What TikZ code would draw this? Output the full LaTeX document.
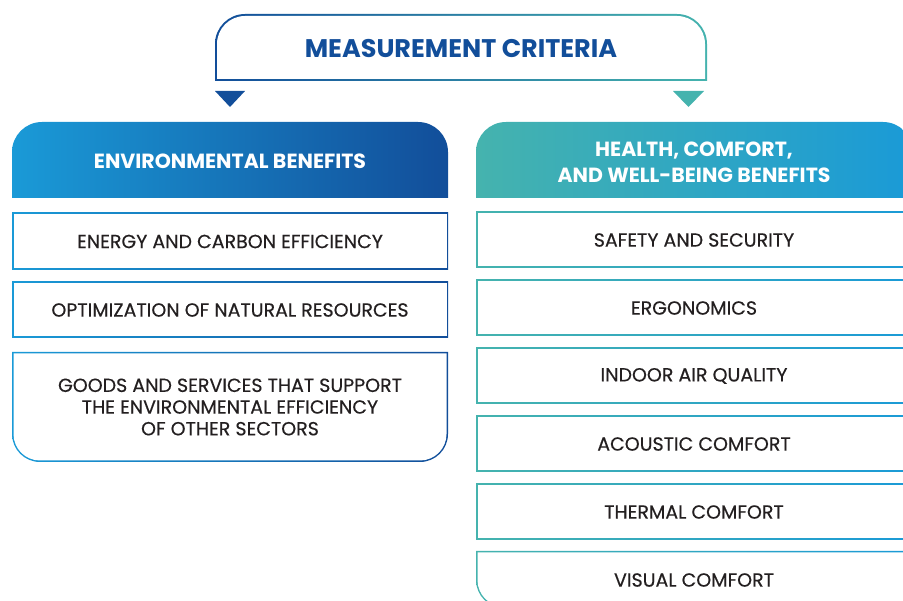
\documentclass[tikz,border=0pt]{standalone}
\usepackage{fontspec}
\setmainfont{Poppins}
\newfontfamily\bodyfont{Poppins}[FakeBold=0.35]
\definecolor{dblue}{HTML}{124E9A}
\definecolor{lblue}{HTML}{1A9AD7}
\definecolor{mblue}{HTML}{0E78BC}
\definecolor{tealc}{HTML}{45B3AE}
\definecolor{txt}{HTML}{231F20}
\begin{document}
\begin{tikzpicture}[x=1pt,y=-1pt,
  body/.style={text=txt, font=\bodyfont\fontsize{19}{21.7}\selectfont, align=center},
  head/.style={text=white, font=\bfseries\fontsize{20.5}{26}\selectfont, align=center},
  title/.style={text=dblue, font=\bfseries\fontsize{25.5}{30}\selectfont}]
\useasboundingbox (0,0) rectangle (903,601);
\clip (0,0) rectangle (903,601);
% top box
\shade[left color=dblue, middle color=lblue, right color=tealc]
  (215,81) [rounded corners=30] -- (215,14) -- (707,14) [sharp corners] -- (707,81) -- cycle;
\fill[white] (217,79) [rounded corners=28] -- (217,16) -- (705,16) [sharp corners] -- (705,79) -- cycle;
\node[title] (mc) at (461,48.5) {MEASUREMENT CRITERIA};
\fill[dblue] (215,91) -- (245,91) -- (230,107) -- cycle;
\fill[tealc] (673,91) -- (704,91) -- (688.5,107) -- cycle;
% left header
\shade[left color=lblue, middle color=mblue, right color=dblue]
  (12,198) [rounded corners=30] -- (12,122) -- (448,122) [sharp corners] -- (448,198) -- cycle;
\node[head] (env) at (230,161) {ENVIRONMENTAL BENEFITS};
% right header
\shade[left color=tealc, right color=lblue]
  (476,198) [rounded corners=30] -- (476,122) -- (913,122) [sharp corners] -- (913,198) -- cycle;
\node[head] (hcw) at (694,162) {HEALTH, COMFORT,\\AND WELL-BEING BENEFITS};
% left boxes
\shade[left color=lblue, right color=dblue] (12,213) rectangle (448,270);
\fill[white] (13.5,214.5) rectangle (446.5,268.5);
\node[body] (l1) at (230,241.5) {ENERGY AND CARBON EFFICIENCY};
\shade[left color=lblue, right color=dblue] (12,282) rectangle (448,338);
\fill[white] (13.5,283.5) rectangle (446.5,336.5);
\node[body] (l2) at (230,310) {OPTIMIZATION OF NATURAL RESOURCES};
\shade[left color=lblue, right color=dblue]
  (12,352) -- (448,352) [rounded corners=28] -- (448,462) -- (12,462) [sharp corners] -- (12,352) -- cycle;
\fill[white]
  (13.5,353.5) -- (446.5,353.5) [rounded corners=26.5] -- (446.5,460.5) -- (13.5,460.5) [sharp corners] -- (13.5,353.5) -- cycle;
\node[body] (l3) at (230,407) {GOODS AND SERVICES THAT SUPPORT\\THE ENVIRONMENTAL EFFICIENCY\\OF OTHER SECTORS};
% right boxes
\foreach \t/\n [count=\i from 0] in {212/SAFETY AND SECURITY,280/ERGONOMICS,348/INDOOR AIR QUALITY,416/ACOUSTIC COMFORT,484/THERMAL COMFORT}{
  \shade[left color=tealc, right color=lblue] (476,\t) rectangle (913,\t+56);
  \fill[white] (477.5,\t+1.5) rectangle (911.5,\t+54.5);
  \node[body] (r\i) at (694,\t+28) {\n};
}
\shade[left color=tealc, right color=lblue]
  (476,551) -- (913,551) -- (913,608) [rounded corners=28] -- (476,608) [sharp corners] -- (476,551) -- cycle;
\fill[white]
  (477.5,552.5) -- (911.5,552.5) -- (911.5,606.5) [rounded corners=26.5] -- (477.5,606.5) [sharp corners] -- (477.5,552.5) -- cycle;
\node[body] (r5) at (694,580) {VISUAL COMFORT};
\end{tikzpicture}
\end{document}
